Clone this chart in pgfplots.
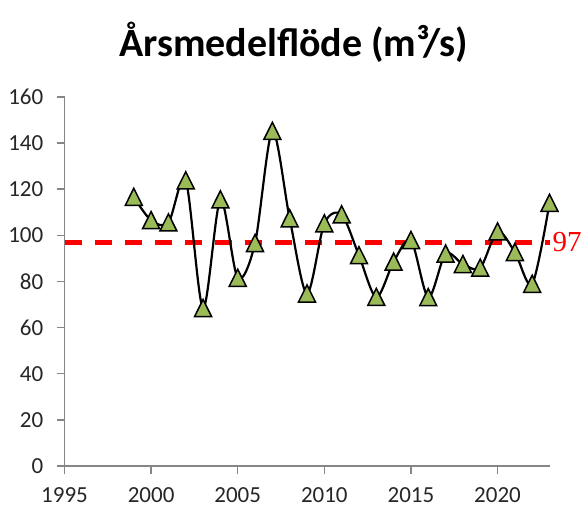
\documentclass[border=0pt]{standalone}
\usepackage{fontspec}
\setmainfont{Carlito}
\newfontfamily\serifnum{Liberation Serif}
\usepackage{pgfplots}
\pgfplotsset{compat=1.18}

\definecolor{markgreen}{RGB}{155,187,89}
\definecolor{axisgray}{RGB}{134,134,134}
\definecolor{ticktext}{RGB}{38,38,38}
\definecolor{meanred}{RGB}{255,0,0}

% isosceles triangle marker, as wide as it is tall, centred on the point
\pgfdeclareplotmark{xltri}{%
  \pgfpathmoveto{\pgfqpoint{0pt}{8.8pt}}%
  \pgfpathlineto{\pgfqpoint{-8.5pt}{-8.3pt}}%
  \pgfpathlineto{\pgfqpoint{8.5pt}{-8.3pt}}%
  \pgfpathclose
  \pgfusepathqfillstroke}

\pgfplotstableread{
year flow
1999 116.6
2000 106.5
2001 105.5
2002 123.8
2003 68.4
2004 115.5
2005 81.5
2006 96.6
2007 145.2
2008 107.3
2009 74.7
2010 105.1
2011 109.0
2012 91.3
2013 73.2
2014 88.5
2015 97.9
2016 73.1
2017 92.0
2018 87.5
2019 85.9
2020 101.6
2021 92.7
2022 78.9
2023 114.0
}\flowdata

\begin{document}
\begin{tikzpicture}
\begin{axis}[
  at={(0pt,0pt)}, anchor=south west,
  scale only axis, width=485pt, height=369pt,
  xmin=1995, xmax=2023, ymin=0, ymax=160,
  axis x line*=bottom, axis y line*=left,
  axis line style={axisgray, line width=1.5pt},
  xtick={1995,2000,...,2020}, ytick={0,20,...,160},
  minor tick num=0,
  tick style={axisgray, line width=1.5pt},
  tick align=outside, major tick length=8pt,
  /pgf/number format/assume math mode=true,
  /pgf/number format/1000 sep={},
  tick label style={font=\fontsize{23}{23}\selectfont, text=ticktext, inner sep=0pt},
  yticklabel style={anchor=east, xshift=-13pt},
  xticklabel style={anchor=north, yshift=-13pt},
  clip=false,
]
  % long-term mean
  \addplot[meanred, line width=5pt, dash pattern=on 17pt off 13pt]
    coordinates {(1995,97) (2023,97)};
  \node[anchor=west, inner sep=0pt, text=meanred,
        font=\serifnum\fontsize{29}{29}\selectfont]
    at (axis cs:2023,97) [xshift=3pt] {97};

  % annual mean flow
  \addplot[black, line width=2.2pt, smooth, tension=0.5,
           mark=xltri,
           mark options={solid, fill=markgreen, draw=black, line width=1.5pt, line join=miter}]
    table[x=year, y=flow] {\flowdata};
\end{axis}
\node[anchor=base, font=\bfseries\fontsize{40}{40}\selectfont, text=black]
  at (229pt,409pt) {Årsmedelflöde (m³/s)};
\pgfresetboundingbox
\path[use as bounding box] (-64.5pt,-42pt) rectangle (520.5pt,466pt);
\end{tikzpicture}
\end{document}
